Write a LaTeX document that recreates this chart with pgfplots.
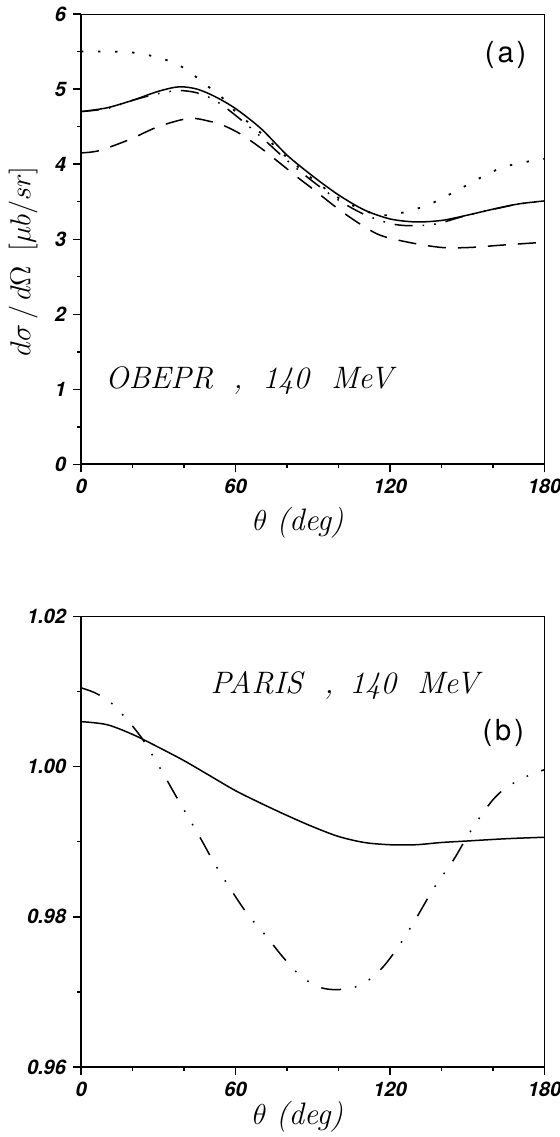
\documentclass[border=0pt]{standalone}
\usepackage{fontspec}
\setsansfont{TeX Gyre Heros}
\usepackage{pgfplots}
\pgfplotsset{compat=1.18}
\pgfplotsset{
  myax/.style={
    scale only axis, width=231.5pt, height=225pt,
    xmin=0, xmax=180, clip=false,
    axis lines*=left,
    axis line style={line width=1pt},
    tick align=outside,
    major tick length=4pt, minor tick length=2pt,
    tick style={line width=0.7pt, black},
    xtick={0,60,120,180}, xticklabels={0,60,120,180},
    minor xtick={20,40,80,100,140,160},
    ticklabel style={font=\sffamily\bfseries\itshape\fontsize{10}{12}\selectfont},
  },
  dashdotdot/.style={line width=0.75pt, dash pattern=on 9pt off 5pt on 0.8pt off 5pt on 0.8pt off 5pt},
}
\begin{document}
\begin{tikzpicture}
\useasboundingbox (-40.5pt,-35pt) rectangle (239pt,533pt);
% ---------------- top panel (a) ----------------
\begin{axis}[myax, at={(0,301pt)},
  ymin=0, ymax=6,
  ytick={0,1,2,3,4,5,6}, yticklabels={0,1,2,3,4,5,6},
  minor ytick={0.5,1.5,2.5,3.5,4.5,5.5},
  xlabel={$\theta$ \textit{(deg)}},
  xlabel style={at={(axis description cs:0.469,0)}, anchor=center, yshift=-29pt, font=\fontsize{15.5}{18}\selectfont},
  ylabel={$d\sigma\,/\,d\Omega$\hspace{7pt}$[\mu b/sr]$},
  ylabel style={at={(axis description cs:-0.125,0.451)}, anchor=center, rotate=0, font=\fontsize{15.5}{18}\selectfont},
]
\draw[line width=0.5pt] (rel axis cs:0,1) -- (rel axis cs:1,1) -- (rel axis cs:1,0);
% solid
\addplot[smooth, line width=0.75pt] coordinates {
(0,4.70) (10,4.75) (20,4.85) (30,4.97) (38,5.03) (45,5.00) (52,4.90) (60,4.74)
(70,4.47) (80,4.12) (90,3.84) (100,3.59) (110,3.39) (120,3.27) (130,3.23)
(140,3.25) (150,3.32) (160,3.40) (170,3.47) (180,3.51)};
% dotted
\addplot[smooth, line width=0.9pt, dash pattern=on 1.2pt off 7.3pt] coordinates {
(0,5.50) (10,5.50) (19,5.49) (25,5.46) (32,5.40) (38.5,5.31) (44,5.18) (48,5.07)
(55,4.88) (60,4.70) (70,4.41) (80,4.09) (90,3.80) (100,3.55) (110,3.38) (117,3.32)
(123,3.34) (130,3.40) (137,3.49) (145,3.63) (152.5,3.77) (158,3.87) (164,3.96)
(170,4.01) (176,4.05) (180,4.07)};
% dash-dot-dot
\addplot[smooth, dashdotdot] coordinates {
(0,4.70) (10,4.74) (20,4.85) (30,4.94) (38,4.98) (45,4.95) (52,4.85) (60,4.65)
(70,4.36) (80,4.05) (90,3.77) (100,3.52) (110,3.33) (120,3.21) (127,3.18)
(135,3.19) (140,3.22) (147,3.29) (155,3.36) (163,3.42) (170,3.47) (180,3.51)};
% dashed
\addplot[smooth, line width=0.75pt, dash pattern=on 9pt off 6pt] coordinates {
(0,4.15) (7,4.18) (19,4.33) (30,4.50) (42,4.61) (50,4.57) (55,4.52) (62,4.40)
(70,4.21) (77,4.02) (85,3.80) (90,3.67) (102,3.35) (115,3.07) (127,2.96)
(140,2.89) (151,2.89) (163,2.92) (180,2.96)};
\node at (axis cs:164.9,5.45) {\sffamily\fontsize{14.5}{17}\selectfont (\kern1.5pt a\kern1.5pt)};
\node[anchor=base west, inner sep=0pt] at (axis cs:9.33,1.013) {\itshape\fontsize{15.5}{18}\selectfont OBEPR\hspace{10pt},\hspace{10pt}140\hspace{11pt}MeV};
\end{axis}
% ---------------- bottom panel (b) ----------------
\begin{axis}[myax, at={(0,0)},
  ymin=0.96, ymax=1.02,
  ytick={0.96,0.98,1.00,1.02}, yticklabels={0.96,0.98,1.00,1.02},
  minor ytick={0.97,0.99,1.01},
  xlabel={$\theta$ \textit{(deg)}},
  xlabel style={at={(axis description cs:0.468,0)}, anchor=center, yshift=-25pt, font=\fontsize{15.5}{18}\selectfont},
]
\draw[line width=0.5pt] (rel axis cs:0,1) -- (rel axis cs:1,1) -- (rel axis cs:1,0);
% solid
\addplot[smooth, line width=0.75pt] coordinates {
(0,1.0060) (10,1.0056) (20,1.0043) (30,1.0026) (40,1.0008) (50,0.9988) (60,0.9968)
(70,0.9951) (80,0.9935) (90,0.9920) (100,0.9907) (110,0.9899) (120,0.9896)
(130,0.9896) (140,0.9899) (150,0.9901) (165,0.9904) (180,0.9906)};
% dash-dot-dot
\addplot[smooth, line width=0.75pt, dash pattern=on 10pt off 7pt on 0.8pt off 7pt on 0.8pt off 7pt] coordinates {
(0,1.0105) (5,1.0099) (11,1.0087) (17,1.0066) (23.6,1.0038) (30.7,0.9998) (37,0.9960)
(46,0.9907) (52,0.9870) (59,0.9832) (65,0.9802) (72,0.9774) (78,0.9748) (85,0.9722)
(92,0.9707) (98,0.9703) (105,0.9705) (111,0.9714) (117.5,0.9734) (124,0.9764)
(130.5,0.9800) (137,0.9838) (144.7,0.9876) (150,0.9907) (155,0.9933) (160,0.9956)
(165,0.9972) (170.7,0.9983) (175,0.9990) (180,0.9996)};
\node at (axis cs:164,1.00453) {\sffamily\fontsize{14.5}{17}\selectfont (\kern1.5pt b\kern1.5pt)};
\node[anchor=base west, inner sep=0pt] at (axis cs:50.2,1.00973) {\itshape\fontsize{15.5}{18}\selectfont PARIS\hspace{11pt},\hspace{8pt}140\hspace{10.5pt}MeV};
\end{axis}
\end{tikzpicture}
\end{document}
